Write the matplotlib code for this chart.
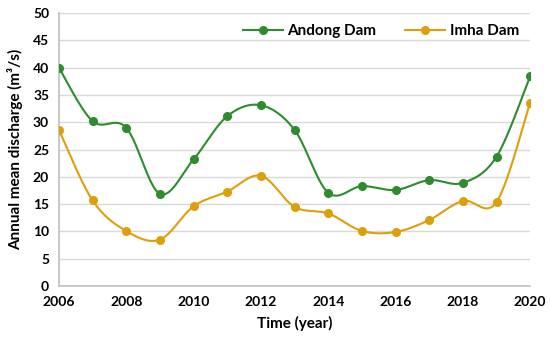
import numpy as np
import matplotlib.pyplot as plt

years = [2006, 2007, 2008, 2009, 2010, 2011, 2012, 2013, 2014, 2015, 2016, 2017, 2018, 2019, 2020]
andong = [40.0, 30.2, 29.0, 16.9, 23.2, 31.1, 33.1, 28.6, 17.1, 18.3, 17.6, 19.4, 18.9, 23.7, 38.4]
imha = [28.6, 15.7, 10.1, 8.5, 14.6, 17.3, 20.2, 14.5, 13.3, 10.1, 9.9, 12.1, 15.6, 15.4, 33.6]

GREEN = "#2e8b2e"
ORANGE = "#dd9f0a"
FONT = "Lato"


def smooth(x, y, n=30):  # excel-like smoothed line (bezier through points)
    x = np.asarray(x, float)
    y = np.asarray(y, float)
    px = np.concatenate([[x[0]], x, [x[-1]]])
    py = np.concatenate([[y[0]], y, [y[-1]]])
    xs, ys = [], []
    t = np.linspace(0, 1, n)
    for i in range(1, len(px) - 2):
        p0 = np.array([px[i], py[i]])
        p3 = np.array([px[i + 1], py[i + 1]])
        c1 = p0 + (np.array([px[i + 1], py[i + 1]]) - np.array([px[i - 1], py[i - 1]])) / 6
        c2 = p3 - (np.array([px[i + 2], py[i + 2]]) - np.array([px[i], py[i]])) / 6
        b = ((1 - t) ** 3)[:, None] * p0 + (3 * (1 - t) ** 2 * t)[:, None] * c1 \
            + (3 * (1 - t) * t ** 2)[:, None] * c2 + (t ** 3)[:, None] * p3
        xs.extend(b[:, 0])
        ys.extend(b[:, 1])
    return xs, ys


fig = plt.figure(figsize=(5.5, 3.41), dpi=100)
ax = fig.add_axes([0.107, 0.161, 0.857, 0.801])

for vals, col, lab in [(andong, GREEN, "Andong Dam"), (imha, ORANGE, "Imha Dam")]:
    sx, sy = smooth(years, vals)
    ax.plot(sx, sy, color=col, lw=1.5, zorder=3)
    ax.plot(years, vals, "o", color=col, ms=5.5, zorder=4)
    ax.plot([], [], "-o", color=col, lw=1.5, ms=5.5, label=lab)

ax.set_xlim(2006, 2020)
ax.set_ylim(0, 50)
ax.set_xticks(range(2006, 2021, 2))
ax.set_yticks(range(0, 51, 5))
ax.grid(axis="y", color="#d9d9d9", lw=1)
ax.set_axisbelow(True)
for s in ["top", "right"]:
    ax.spines[s].set_visible(False)
for s in ["left", "bottom"]:
    ax.spines[s].set_color("#bfbfbf")
    ax.spines[s].set_linewidth(1.2)
ax.tick_params(length=0, pad=7, labelsize=10)
for lbl in ax.get_xticklabels() + ax.get_yticklabels():
    lbl.set_fontweight("bold")
    lbl.set_family(FONT)

ax.set_xlabel("Time (year)", fontsize=11, fontweight="bold", family=FONT, labelpad=6)
ax.set_ylabel("Annual mean discharge (m³/s)", fontsize=11, fontweight="bold", family=FONT, labelpad=7)

leg = ax.legend(loc="upper right", ncol=2, frameon=False, bbox_to_anchor=(1.005, 1.01),
                prop={"family": FONT, "weight": "bold", "size": 11},
                handlelength=2.6, columnspacing=1.9, handletextpad=0.3)

fig.savefig("out.png", dpi=100)
